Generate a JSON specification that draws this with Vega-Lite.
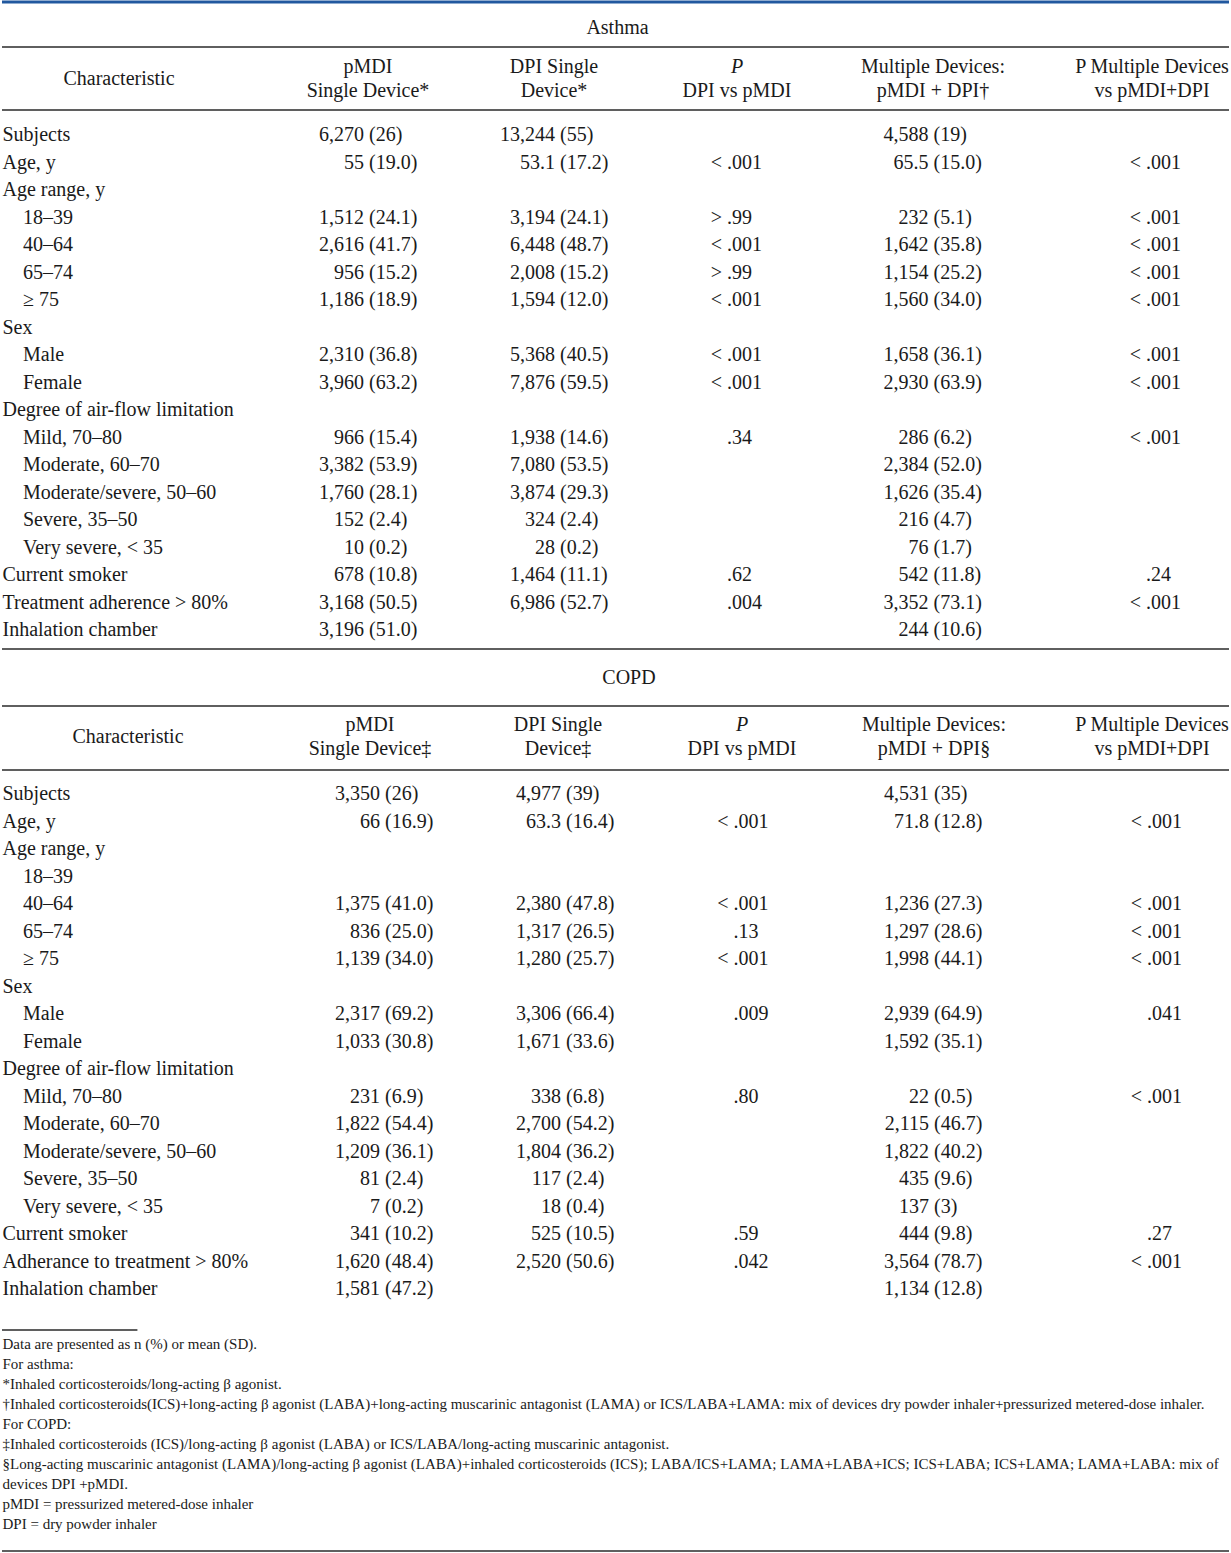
{
  "$schema": "https://vega.github.io/schema/vega-lite/v6.json",
  "width": 1231,
  "height": 1553,
  "autosize": {"type": "fit", "contains": "padding"},
  "padding": 0,
  "background": "white",
  "config": {"view": {"stroke": null}, "text": {"font": "Liberation Serif", "fontSize": 20, "color": "#1a1a1a", "baseline": "middle"}},
  "datasets": {
    "rules": [
      {"r": -0.5, "span": "top"},
      {"r": 0.5, "span": "full"},
      {"r": 2.5, "span": "full"},
      {"r": 21.5, "span": "full"},
      {"r": 22.5, "span": "full"},
      {"r": 24.5, "span": "full"},
      {"r": 43.5, "span": "short"},
      {"r": 53.5, "span": "full"}
    ],
    "heads": [
      {"sec": "A", "r": 0, "col": 6, "text": "Asthma"},
      {"sec": "A", "r": 1.5, "col": 0, "text": "Characteristic"},
      {"sec": "A", "r": 1, "col": 1, "text": "pMDI"},
      {"sec": "A", "r": 2, "col": 1, "text": "Single Device*"},
      {"sec": "A", "r": 1, "col": 2, "text": "DPI Single"},
      {"sec": "A", "r": 2, "col": 2, "text": "Device*"},
      {"sec": "A", "r": 1, "col": 3, "text": "P"},
      {"sec": "A", "r": 2, "col": 3, "text": "DPI vs pMDI"},
      {"sec": "A", "r": 1, "col": 4, "text": "Multiple Devices:"},
      {"sec": "A", "r": 2, "col": 4, "text": "pMDI + DPI†"},
      {"sec": "A", "r": 1, "col": 5, "text": "P Multiple Devices"},
      {"sec": "A", "r": 2, "col": 5, "text": "vs pMDI+DPI"},
      {"sec": "C", "r": 22, "col": 6, "text": "COPD"},
      {"sec": "C", "r": 23.5, "col": 0, "text": "Characteristic"},
      {"sec": "C", "r": 23, "col": 1, "text": "pMDI"},
      {"sec": "C", "r": 24, "col": 1, "text": "Single Device‡"},
      {"sec": "C", "r": 23, "col": 2, "text": "DPI Single"},
      {"sec": "C", "r": 24, "col": 2, "text": "Device‡"},
      {"sec": "C", "r": 23, "col": 3, "text": "P"},
      {"sec": "C", "r": 24, "col": 3, "text": "DPI vs pMDI"},
      {"sec": "C", "r": 23, "col": 4, "text": "Multiple Devices:"},
      {"sec": "C", "r": 24, "col": 4, "text": "pMDI + DPI§"},
      {"sec": "C", "r": 23, "col": 5, "text": "P Multiple Devices"},
      {"sec": "C", "r": 24, "col": 5, "text": "vs pMDI+DPI"}
    ],
    "labels": [
      {"r": 3, "level": 0, "text": "Subjects"},
      {"r": 4, "level": 0, "text": "Age, y"},
      {"r": 5, "level": 0, "text": "Age range, y"},
      {"r": 6, "level": 1, "text": "18–39"},
      {"r": 7, "level": 1, "text": "40–64"},
      {"r": 8, "level": 1, "text": "65–74"},
      {"r": 9, "level": 1, "text": "≥ 75"},
      {"r": 10, "level": 0, "text": "Sex"},
      {"r": 11, "level": 1, "text": "Male"},
      {"r": 12, "level": 1, "text": "Female"},
      {"r": 13, "level": 0, "text": "Degree of air-flow limitation"},
      {"r": 14, "level": 1, "text": "Mild, 70–80"},
      {"r": 15, "level": 1, "text": "Moderate, 60–70"},
      {"r": 16, "level": 1, "text": "Moderate/severe, 50–60"},
      {"r": 17, "level": 1, "text": "Severe, 35–50"},
      {"r": 18, "level": 1, "text": "Very severe, < 35"},
      {"r": 19, "level": 0, "text": "Current smoker"},
      {"r": 20, "level": 0, "text": "Treatment adherence > 80%"},
      {"r": 21, "level": 0, "text": "Inhalation chamber"},
      {"r": 25, "level": 0, "text": "Subjects"},
      {"r": 26, "level": 0, "text": "Age, y"},
      {"r": 27, "level": 0, "text": "Age range, y"},
      {"r": 28, "level": 1, "text": "18–39"},
      {"r": 29, "level": 1, "text": "40–64"},
      {"r": 30, "level": 1, "text": "65–74"},
      {"r": 31, "level": 1, "text": "≥ 75"},
      {"r": 32, "level": 0, "text": "Sex"},
      {"r": 33, "level": 1, "text": "Male"},
      {"r": 34, "level": 1, "text": "Female"},
      {"r": 35, "level": 0, "text": "Degree of air-flow limitation"},
      {"r": 36, "level": 1, "text": "Mild, 70–80"},
      {"r": 37, "level": 1, "text": "Moderate, 60–70"},
      {"r": 38, "level": 1, "text": "Moderate/severe, 50–60"},
      {"r": 39, "level": 1, "text": "Severe, 35–50"},
      {"r": 40, "level": 1, "text": "Very severe, < 35"},
      {"r": 41, "level": 0, "text": "Current smoker"},
      {"r": 42, "level": 0, "text": "Adherance to treatment > 80%"},
      {"r": 43, "level": 0, "text": "Inhalation chamber"}
    ],
    "cells": [
      {"sec": "A", "r": 3, "col": 1, "lhs": "6,270", "rhs": "(26)"},
      {"sec": "A", "r": 3, "col": 2, "lhs": "13,244", "rhs": "(55)"},
      {"sec": "A", "r": 3, "col": 4, "lhs": "4,588", "rhs": "(19)"},
      {"sec": "A", "r": 4, "col": 1, "lhs": "55", "rhs": "(19.0)"},
      {"sec": "A", "r": 4, "col": 2, "lhs": "53.1", "rhs": "(17.2)"},
      {"sec": "A", "r": 4, "col": 3, "lhs": "<", "rhs": ".001"},
      {"sec": "A", "r": 4, "col": 4, "lhs": "65.5", "rhs": "(15.0)"},
      {"sec": "A", "r": 4, "col": 5, "lhs": "<", "rhs": ".001"},
      {"sec": "A", "r": 6, "col": 1, "lhs": "1,512", "rhs": "(24.1)"},
      {"sec": "A", "r": 6, "col": 2, "lhs": "3,194", "rhs": "(24.1)"},
      {"sec": "A", "r": 6, "col": 3, "lhs": ">", "rhs": ".99"},
      {"sec": "A", "r": 6, "col": 4, "lhs": "232", "rhs": "(5.1)"},
      {"sec": "A", "r": 6, "col": 5, "lhs": "<", "rhs": ".001"},
      {"sec": "A", "r": 7, "col": 1, "lhs": "2,616", "rhs": "(41.7)"},
      {"sec": "A", "r": 7, "col": 2, "lhs": "6,448", "rhs": "(48.7)"},
      {"sec": "A", "r": 7, "col": 3, "lhs": "<", "rhs": ".001"},
      {"sec": "A", "r": 7, "col": 4, "lhs": "1,642", "rhs": "(35.8)"},
      {"sec": "A", "r": 7, "col": 5, "lhs": "<", "rhs": ".001"},
      {"sec": "A", "r": 8, "col": 1, "lhs": "956", "rhs": "(15.2)"},
      {"sec": "A", "r": 8, "col": 2, "lhs": "2,008", "rhs": "(15.2)"},
      {"sec": "A", "r": 8, "col": 3, "lhs": ">", "rhs": ".99"},
      {"sec": "A", "r": 8, "col": 4, "lhs": "1,154", "rhs": "(25.2)"},
      {"sec": "A", "r": 8, "col": 5, "lhs": "<", "rhs": ".001"},
      {"sec": "A", "r": 9, "col": 1, "lhs": "1,186", "rhs": "(18.9)"},
      {"sec": "A", "r": 9, "col": 2, "lhs": "1,594", "rhs": "(12.0)"},
      {"sec": "A", "r": 9, "col": 3, "lhs": "<", "rhs": ".001"},
      {"sec": "A", "r": 9, "col": 4, "lhs": "1,560", "rhs": "(34.0)"},
      {"sec": "A", "r": 9, "col": 5, "lhs": "<", "rhs": ".001"},
      {"sec": "A", "r": 11, "col": 1, "lhs": "2,310", "rhs": "(36.8)"},
      {"sec": "A", "r": 11, "col": 2, "lhs": "5,368", "rhs": "(40.5)"},
      {"sec": "A", "r": 11, "col": 3, "lhs": "<", "rhs": ".001"},
      {"sec": "A", "r": 11, "col": 4, "lhs": "1,658", "rhs": "(36.1)"},
      {"sec": "A", "r": 11, "col": 5, "lhs": "<", "rhs": ".001"},
      {"sec": "A", "r": 12, "col": 1, "lhs": "3,960", "rhs": "(63.2)"},
      {"sec": "A", "r": 12, "col": 2, "lhs": "7,876", "rhs": "(59.5)"},
      {"sec": "A", "r": 12, "col": 3, "lhs": "<", "rhs": ".001"},
      {"sec": "A", "r": 12, "col": 4, "lhs": "2,930", "rhs": "(63.9)"},
      {"sec": "A", "r": 12, "col": 5, "lhs": "<", "rhs": ".001"},
      {"sec": "A", "r": 14, "col": 1, "lhs": "966", "rhs": "(15.4)"},
      {"sec": "A", "r": 14, "col": 2, "lhs": "1,938", "rhs": "(14.6)"},
      {"sec": "A", "r": 14, "col": 3, "lhs": "", "rhs": ".34"},
      {"sec": "A", "r": 14, "col": 4, "lhs": "286", "rhs": "(6.2)"},
      {"sec": "A", "r": 14, "col": 5, "lhs": "<", "rhs": ".001"},
      {"sec": "A", "r": 15, "col": 1, "lhs": "3,382", "rhs": "(53.9)"},
      {"sec": "A", "r": 15, "col": 2, "lhs": "7,080", "rhs": "(53.5)"},
      {"sec": "A", "r": 15, "col": 4, "lhs": "2,384", "rhs": "(52.0)"},
      {"sec": "A", "r": 16, "col": 1, "lhs": "1,760", "rhs": "(28.1)"},
      {"sec": "A", "r": 16, "col": 2, "lhs": "3,874", "rhs": "(29.3)"},
      {"sec": "A", "r": 16, "col": 4, "lhs": "1,626", "rhs": "(35.4)"},
      {"sec": "A", "r": 17, "col": 1, "lhs": "152", "rhs": "(2.4)"},
      {"sec": "A", "r": 17, "col": 2, "lhs": "324", "rhs": "(2.4)"},
      {"sec": "A", "r": 17, "col": 4, "lhs": "216", "rhs": "(4.7)"},
      {"sec": "A", "r": 18, "col": 1, "lhs": "10", "rhs": "(0.2)"},
      {"sec": "A", "r": 18, "col": 2, "lhs": "28", "rhs": "(0.2)"},
      {"sec": "A", "r": 18, "col": 4, "lhs": "76", "rhs": "(1.7)"},
      {"sec": "A", "r": 19, "col": 1, "lhs": "678", "rhs": "(10.8)"},
      {"sec": "A", "r": 19, "col": 2, "lhs": "1,464", "rhs": "(11.1)"},
      {"sec": "A", "r": 19, "col": 3, "lhs": "", "rhs": ".62"},
      {"sec": "A", "r": 19, "col": 4, "lhs": "542", "rhs": "(11.8)"},
      {"sec": "A", "r": 19, "col": 5, "lhs": "", "rhs": ".24"},
      {"sec": "A", "r": 20, "col": 1, "lhs": "3,168", "rhs": "(50.5)"},
      {"sec": "A", "r": 20, "col": 2, "lhs": "6,986", "rhs": "(52.7)"},
      {"sec": "A", "r": 20, "col": 3, "lhs": "", "rhs": ".004"},
      {"sec": "A", "r": 20, "col": 4, "lhs": "3,352", "rhs": "(73.1)"},
      {"sec": "A", "r": 20, "col": 5, "lhs": "<", "rhs": ".001"},
      {"sec": "A", "r": 21, "col": 1, "lhs": "3,196", "rhs": "(51.0)"},
      {"sec": "A", "r": 21, "col": 4, "lhs": "244", "rhs": "(10.6)"},
      {"sec": "C", "r": 25, "col": 1, "lhs": "3,350", "rhs": "(26)"},
      {"sec": "C", "r": 25, "col": 2, "lhs": "4,977", "rhs": "(39)"},
      {"sec": "C", "r": 25, "col": 4, "lhs": "4,531", "rhs": "(35)"},
      {"sec": "C", "r": 26, "col": 1, "lhs": "66", "rhs": "(16.9)"},
      {"sec": "C", "r": 26, "col": 2, "lhs": "63.3", "rhs": "(16.4)"},
      {"sec": "C", "r": 26, "col": 3, "lhs": "<", "rhs": ".001"},
      {"sec": "C", "r": 26, "col": 4, "lhs": "71.8", "rhs": "(12.8)"},
      {"sec": "C", "r": 26, "col": 5, "lhs": "<", "rhs": ".001"},
      {"sec": "C", "r": 29, "col": 1, "lhs": "1,375", "rhs": "(41.0)"},
      {"sec": "C", "r": 29, "col": 2, "lhs": "2,380", "rhs": "(47.8)"},
      {"sec": "C", "r": 29, "col": 3, "lhs": "<", "rhs": ".001"},
      {"sec": "C", "r": 29, "col": 4, "lhs": "1,236", "rhs": "(27.3)"},
      {"sec": "C", "r": 29, "col": 5, "lhs": "<", "rhs": ".001"},
      {"sec": "C", "r": 30, "col": 1, "lhs": "836", "rhs": "(25.0)"},
      {"sec": "C", "r": 30, "col": 2, "lhs": "1,317", "rhs": "(26.5)"},
      {"sec": "C", "r": 30, "col": 3, "lhs": "", "rhs": ".13"},
      {"sec": "C", "r": 30, "col": 4, "lhs": "1,297", "rhs": "(28.6)"},
      {"sec": "C", "r": 30, "col": 5, "lhs": "<", "rhs": ".001"},
      {"sec": "C", "r": 31, "col": 1, "lhs": "1,139", "rhs": "(34.0)"},
      {"sec": "C", "r": 31, "col": 2, "lhs": "1,280", "rhs": "(25.7)"},
      {"sec": "C", "r": 31, "col": 3, "lhs": "<", "rhs": ".001"},
      {"sec": "C", "r": 31, "col": 4, "lhs": "1,998", "rhs": "(44.1)"},
      {"sec": "C", "r": 31, "col": 5, "lhs": "<", "rhs": ".001"},
      {"sec": "C", "r": 33, "col": 1, "lhs": "2,317", "rhs": "(69.2)"},
      {"sec": "C", "r": 33, "col": 2, "lhs": "3,306", "rhs": "(66.4)"},
      {"sec": "C", "r": 33, "col": 3, "lhs": "", "rhs": ".009"},
      {"sec": "C", "r": 33, "col": 4, "lhs": "2,939", "rhs": "(64.9)"},
      {"sec": "C", "r": 33, "col": 5, "lhs": "", "rhs": ".041"},
      {"sec": "C", "r": 34, "col": 1, "lhs": "1,033", "rhs": "(30.8)"},
      {"sec": "C", "r": 34, "col": 2, "lhs": "1,671", "rhs": "(33.6)"},
      {"sec": "C", "r": 34, "col": 4, "lhs": "1,592", "rhs": "(35.1)"},
      {"sec": "C", "r": 36, "col": 1, "lhs": "231", "rhs": "(6.9)"},
      {"sec": "C", "r": 36, "col": 2, "lhs": "338", "rhs": "(6.8)"},
      {"sec": "C", "r": 36, "col": 3, "lhs": "", "rhs": ".80"},
      {"sec": "C", "r": 36, "col": 4, "lhs": "22", "rhs": "(0.5)"},
      {"sec": "C", "r": 36, "col": 5, "lhs": "<", "rhs": ".001"},
      {"sec": "C", "r": 37, "col": 1, "lhs": "1,822", "rhs": "(54.4)"},
      {"sec": "C", "r": 37, "col": 2, "lhs": "2,700", "rhs": "(54.2)"},
      {"sec": "C", "r": 37, "col": 4, "lhs": "2,115", "rhs": "(46.7)"},
      {"sec": "C", "r": 38, "col": 1, "lhs": "1,209", "rhs": "(36.1)"},
      {"sec": "C", "r": 38, "col": 2, "lhs": "1,804", "rhs": "(36.2)"},
      {"sec": "C", "r": 38, "col": 4, "lhs": "1,822", "rhs": "(40.2)"},
      {"sec": "C", "r": 39, "col": 1, "lhs": "81", "rhs": "(2.4)"},
      {"sec": "C", "r": 39, "col": 2, "lhs": "117", "rhs": "(2.4)"},
      {"sec": "C", "r": 39, "col": 4, "lhs": "435", "rhs": "(9.6)"},
      {"sec": "C", "r": 40, "col": 1, "lhs": "7", "rhs": "(0.2)"},
      {"sec": "C", "r": 40, "col": 2, "lhs": "18", "rhs": "(0.4)"},
      {"sec": "C", "r": 40, "col": 4, "lhs": "137", "rhs": "(3)"},
      {"sec": "C", "r": 41, "col": 1, "lhs": "341", "rhs": "(10.2)"},
      {"sec": "C", "r": 41, "col": 2, "lhs": "525", "rhs": "(10.5)"},
      {"sec": "C", "r": 41, "col": 3, "lhs": "", "rhs": ".59"},
      {"sec": "C", "r": 41, "col": 4, "lhs": "444", "rhs": "(9.8)"},
      {"sec": "C", "r": 41, "col": 5, "lhs": "", "rhs": ".27"},
      {"sec": "C", "r": 42, "col": 1, "lhs": "1,620", "rhs": "(48.4)"},
      {"sec": "C", "r": 42, "col": 2, "lhs": "2,520", "rhs": "(50.6)"},
      {"sec": "C", "r": 42, "col": 3, "lhs": "", "rhs": ".042"},
      {"sec": "C", "r": 42, "col": 4, "lhs": "3,564", "rhs": "(78.7)"},
      {"sec": "C", "r": 42, "col": 5, "lhs": "<", "rhs": ".001"},
      {"sec": "C", "r": 43, "col": 1, "lhs": "1,581", "rhs": "(47.2)"},
      {"sec": "C", "r": 43, "col": 4, "lhs": "1,134", "rhs": "(12.8)"}
    ],
    "notes": [
      {"r": 44, "level": 0, "text": "Data are presented as n (%) or mean (SD)."},
      {"r": 45, "level": 0, "text": "For asthma:"},
      {"r": 46, "level": 0, "text": "*Inhaled corticosteroids/long-acting β agonist."},
      {"r": 47, "level": 0, "text": "†Inhaled corticosteroids(ICS)+long-acting β agonist (LABA)+long-acting muscarinic antagonist (LAMA) or ICS/LABA+LAMA: mix of devices dry powder inhaler+pressurized metered-dose inhaler."},
      {"r": 48, "level": 0, "text": "For COPD:"},
      {"r": 49, "level": 0, "text": "‡Inhaled corticosteroids (ICS)/long-acting β agonist (LABA) or ICS/LABA/long-acting muscarinic antagonist."},
      {"r": 50, "level": 0, "text": "§Long-acting muscarinic antagonist (LAMA)/long-acting β agonist (LABA)+inhaled corticosteroids (ICS); LABA/ICS+LAMA; LAMA+LABA+ICS; ICS+LABA; ICS+LAMA; LAMA+LABA: mix of"},
      {"r": 51, "level": 0, "text": "devices DPI +pMDI."},
      {"r": 52, "level": 0, "text": "pMDI = pressurized metered-dose inhaler"},
      {"r": 53, "level": 0, "text": "DPI = dry powder inhaler"}
    ]
  },
  "resolve": {"scale": {"x": "independent"}},
  "layer": [
    {
      "data": {"name": "rules"},
      "transform": [{"filter": "datum.span == 'full'"}],
      "mark": {"type": "rule", "color": "#2a2a2a", "strokeWidth": 1.6},
      "encoding": {
        "y": {"field": "r", "type": "quantitative", "axis": null,
              "scale": {"domain": [-0.5,0,0.5,1,2,2.5,3,21,21.5,22,22.5,23,24,24.5,25,43,43.5,44,53,53.5], "range": [2,28,47,67,91,110,135,630,649,678,706,725,749,770,794,1289,1330,1344,1524,1551], "zero": false, "nice": false}}
      }
    },
    {
      "data": {"name": "rules"},
      "transform": [{"filter": "datum.span == 'top'"}],
      "mark": {"type": "rule", "color": "#21589f", "strokeWidth": 3.2},
      "encoding": {
        "y": {"field": "r", "type": "quantitative", "axis": null,
              "scale": {"domain": [-0.5,0,0.5,1,2,2.5,3,21,21.5,22,22.5,23,24,24.5,25,43,43.5,44,53,53.5], "range": [2,28,47,67,91,110,135,630,649,678,706,725,749,770,794,1289,1330,1344,1524,1551], "zero": false, "nice": false}}
      }
    },
    {
      "data": {"name": "rules"},
      "transform": [{"filter": "datum.span == 'short'"}],
      "mark": {"type": "rule", "color": "#2a2a2a", "strokeWidth": 1.4},
      "encoding": {
        "x": {"datum": 0, "type": "quantitative", "axis": null, "scale": {"domain": [0, 1], "range": [0, 1231], "zero": false, "nice": false}},
        "x2": {"datum": 0.11},
        "y": {"field": "r", "type": "quantitative", "axis": null,
              "scale": {"domain": [-0.5,0,0.5,1,2,2.5,3,21,21.5,22,22.5,23,24,24.5,25,43,43.5,44,53,53.5], "range": [2,28,47,67,91,110,135,630,649,678,706,725,749,770,794,1289,1330,1344,1524,1551], "zero": false, "nice": false}}
      }
    },
    {
      "data": {"name": "heads"},
      "transform": [{"filter": "datum.sec == 'A' && datum.text != 'P'"}],
      "mark": {"type": "text", "align": "center"},
      "encoding": {
        "x": {"field": "col", "type": "quantitative", "axis": null, "scale": {"domain": [0,1,2,3,4,5,6], "range": [117,366,552,735,931,1150,615.5], "zero": false, "nice": false}},
        "y": {"field": "r", "type": "quantitative", "axis": null,
              "scale": {"domain": [-0.5,0,0.5,1,2,2.5,3,21,21.5,22,22.5,23,24,24.5,25,43,43.5,44,53,53.5], "range": [2,28,47,67,91,110,135,630,649,678,706,725,749,770,794,1289,1330,1344,1524,1551], "zero": false, "nice": false}},
        "text": {"field": "text"}
      }
    },
    {
      "data": {"name": "heads"},
      "transform": [{"filter": "datum.sec == 'A' && datum.text == 'P'"}],
      "mark": {"type": "text", "align": "center", "fontStyle": "italic"},
      "encoding": {
        "x": {"field": "col", "type": "quantitative", "axis": null, "scale": {"domain": [0,1,2,3,4,5,6], "range": [117,366,552,735,931,1150,615.5], "zero": false, "nice": false}},
        "y": {"field": "r", "type": "quantitative", "axis": null,
              "scale": {"domain": [-0.5,0,0.5,1,2,2.5,3,21,21.5,22,22.5,23,24,24.5,25,43,43.5,44,53,53.5], "range": [2,28,47,67,91,110,135,630,649,678,706,725,749,770,794,1289,1330,1344,1524,1551], "zero": false, "nice": false}},
        "text": {"field": "text"}
      }
    },
    {
      "data": {"name": "heads"},
      "transform": [{"filter": "datum.sec == 'C' && datum.text != 'P'"}],
      "mark": {"type": "text", "align": "center"},
      "encoding": {
        "x": {"field": "col", "type": "quantitative", "axis": null, "scale": {"domain": [0,1,2,3,4,5,6], "range": [126,368,556,740,932,1150,627], "zero": false, "nice": false}},
        "y": {"field": "r", "type": "quantitative", "axis": null,
              "scale": {"domain": [-0.5,0,0.5,1,2,2.5,3,21,21.5,22,22.5,23,24,24.5,25,43,43.5,44,53,53.5], "range": [2,28,47,67,91,110,135,630,649,678,706,725,749,770,794,1289,1330,1344,1524,1551], "zero": false, "nice": false}},
        "text": {"field": "text"}
      }
    },
    {
      "data": {"name": "heads"},
      "transform": [{"filter": "datum.sec == 'C' && datum.text == 'P'"}],
      "mark": {"type": "text", "align": "center", "fontStyle": "italic"},
      "encoding": {
        "x": {"field": "col", "type": "quantitative", "axis": null, "scale": {"domain": [0,1,2,3,4,5,6], "range": [126,368,556,740,932,1150,627], "zero": false, "nice": false}},
        "y": {"field": "r", "type": "quantitative", "axis": null,
              "scale": {"domain": [-0.5,0,0.5,1,2,2.5,3,21,21.5,22,22.5,23,24,24.5,25,43,43.5,44,53,53.5], "range": [2,28,47,67,91,110,135,630,649,678,706,725,749,770,794,1289,1330,1344,1524,1551], "zero": false, "nice": false}},
        "text": {"field": "text"}
      }
    },
    {
      "data": {"name": "labels"},
      "mark": {"type": "text", "align": "left"},
      "encoding": {
        "x": {"field": "level", "type": "quantitative", "axis": null, "scale": {"domain": [0, 1], "range": [0.5, 21], "zero": false, "nice": false}},
        "y": {"field": "r", "type": "quantitative", "axis": null,
              "scale": {"domain": [-0.5,0,0.5,1,2,2.5,3,21,21.5,22,22.5,23,24,24.5,25,43,43.5,44,53,53.5], "range": [2,28,47,67,91,110,135,630,649,678,706,725,749,770,794,1289,1330,1344,1524,1551], "zero": false, "nice": false}},
        "text": {"field": "text"}
      }
    },
    {
      "data": {"name": "cells"},
      "transform": [{"filter": "datum.sec == 'A'"}],
      "mark": {"type": "text", "align": "right", "dx": -2.5},
      "encoding": {
        "x": {"field": "col", "type": "quantitative", "axis": null, "scale": {"domain": [1,2,3,4,5], "range": [364.5,555.5,722.5,929,1141.5], "zero": false, "nice": false}},
        "y": {"field": "r", "type": "quantitative", "axis": null,
              "scale": {"domain": [-0.5,0,0.5,1,2,2.5,3,21,21.5,22,22.5,23,24,24.5,25,43,43.5,44,53,53.5], "range": [2,28,47,67,91,110,135,630,649,678,706,725,749,770,794,1289,1330,1344,1524,1551], "zero": false, "nice": false}},
        "text": {"field": "lhs"}
      }
    },
    {
      "data": {"name": "cells"},
      "transform": [{"filter": "datum.sec == 'A'"}],
      "mark": {"type": "text", "align": "left", "dx": 2.5},
      "encoding": {
        "x": {"field": "col", "type": "quantitative", "axis": null, "scale": {"domain": [1,2,3,4,5], "range": [364.5,555.5,722.5,929,1141.5], "zero": false, "nice": false}},
        "y": {"field": "r", "type": "quantitative", "axis": null,
              "scale": {"domain": [-0.5,0,0.5,1,2,2.5,3,21,21.5,22,22.5,23,24,24.5,25,43,43.5,44,53,53.5], "range": [2,28,47,67,91,110,135,630,649,678,706,725,749,770,794,1289,1330,1344,1524,1551], "zero": false, "nice": false}},
        "text": {"field": "rhs"}
      }
    },
    {
      "data": {"name": "cells"},
      "transform": [{"filter": "datum.sec == 'C'"}],
      "mark": {"type": "text", "align": "right", "dx": -2.5},
      "encoding": {
        "x": {"field": "col", "type": "quantitative", "axis": null, "scale": {"domain": [1,2,3,4,5], "range": [380.5,561.5,729,929.5,1142.5], "zero": false, "nice": false}},
        "y": {"field": "r", "type": "quantitative", "axis": null,
              "scale": {"domain": [-0.5,0,0.5,1,2,2.5,3,21,21.5,22,22.5,23,24,24.5,25,43,43.5,44,53,53.5], "range": [2,28,47,67,91,110,135,630,649,678,706,725,749,770,794,1289,1330,1344,1524,1551], "zero": false, "nice": false}},
        "text": {"field": "lhs"}
      }
    },
    {
      "data": {"name": "cells"},
      "transform": [{"filter": "datum.sec == 'C'"}],
      "mark": {"type": "text", "align": "left", "dx": 2.5},
      "encoding": {
        "x": {"field": "col", "type": "quantitative", "axis": null, "scale": {"domain": [1,2,3,4,5], "range": [380.5,561.5,729,929.5,1142.5], "zero": false, "nice": false}},
        "y": {"field": "r", "type": "quantitative", "axis": null,
              "scale": {"domain": [-0.5,0,0.5,1,2,2.5,3,21,21.5,22,22.5,23,24,24.5,25,43,43.5,44,53,53.5], "range": [2,28,47,67,91,110,135,630,649,678,706,725,749,770,794,1289,1330,1344,1524,1551], "zero": false, "nice": false}},
        "text": {"field": "rhs"}
      }
    },
    {
      "data": {"name": "notes"},
      "mark": {"type": "text", "align": "left", "fontSize": 15},
      "encoding": {
        "x": {"field": "level", "type": "quantitative", "axis": null, "scale": {"domain": [0, 1], "range": [0.5, 21], "zero": false, "nice": false}},
        "y": {"field": "r", "type": "quantitative", "axis": null,
              "scale": {"domain": [-0.5,0,0.5,1,2,2.5,3,21,21.5,22,22.5,23,24,24.5,25,43,43.5,44,53,53.5], "range": [2,28,47,67,91,110,135,630,649,678,706,725,749,770,794,1289,1330,1344,1524,1551], "zero": false, "nice": false}},
        "text": {"field": "text"}
      }
    }
  ]
}
